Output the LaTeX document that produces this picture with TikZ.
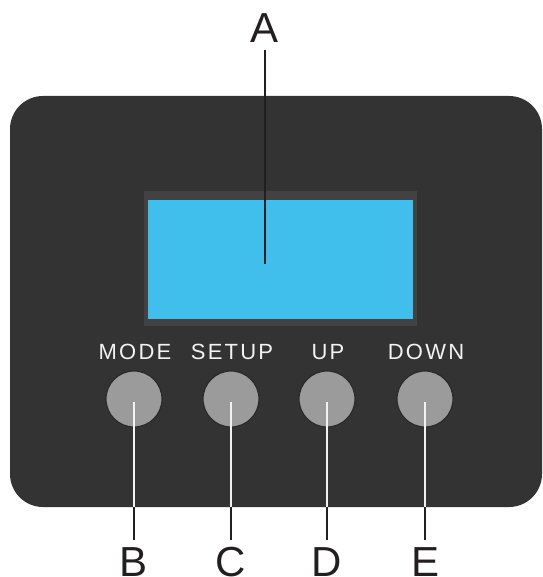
\documentclass[tikz,border=0pt]{standalone}
\usepackage{fontspec}
\setmainfont{Liberation Sans}
\newfontfamily\spacedfont[LetterSpace=10]{Liberation Sans}
\definecolor{panel}{HTML}{333333}
\definecolor{frame}{HTML}{424242}
\definecolor{lcd}{HTML}{40BEEC}
\definecolor{btn}{HTML}{9B9B9B}
\definecolor{btnedge}{HTML}{2A2A2A}
\definecolor{ink}{HTML}{231F20}
\definecolor{wtxt}{HTML}{F2F2F2}
\tikzset{
  btnstyle/.style={circle, minimum size=56pt, inner sep=0pt, fill=btn, draw=btnedge, line width=1.2pt},
  btnlabel/.style={text=wtxt, font=\spacedfont\fontsize{22}{22}\selectfont, anchor=base, inner sep=0pt},
  letter/.style={text=ink, font=\fontsize{42}{42}\selectfont, anchor=base, inner sep=0pt},
  inner/.style={draw=wtxt, line width=2pt},
  outer/.style={draw=ink, line width=2.5pt}
}
\begin{document}
\begin{tikzpicture}[x=1pt,y=-1pt]
\useasboundingbox (0,0) rectangle (542,577);
% panel
\fill[panel, rounded corners=33pt] (10,96) rectangle (542,507);
% screen
\fill[frame] (144,191) rectangle (417,326);
\fill[lcd] (148,200) rectangle (413,319);
% label A
\node[letter] (A) at (265,43) {A};
\coordinate (Aend) at (265,264);
\coordinate (Astart) at (265,50);
\draw[outer] (Astart) -- (Aend);
% buttons
\foreach \n/\x/\t/\L in {b/134/MODE/B, c/231/SETUP/C, d/327/UP/D, e/425/DOWN/E}{
  \node[btnlabel] (t\n) at (\x+1,359) {\t};
  \node[btnstyle] (\n) at (\x,399) {};
  \coordinate (\n edge) at (\x,507);
  \coordinate (\n low) at (\x,540);
  \coordinate (\n mid) at (\x,402);
  \node[letter] (\L) at (\x,576) {\L};
  \draw[inner] (\n mid) -- (\n edge);
  \draw[outer] (\n edge) -- (\n low);
}
\end{tikzpicture}
\end{document}
